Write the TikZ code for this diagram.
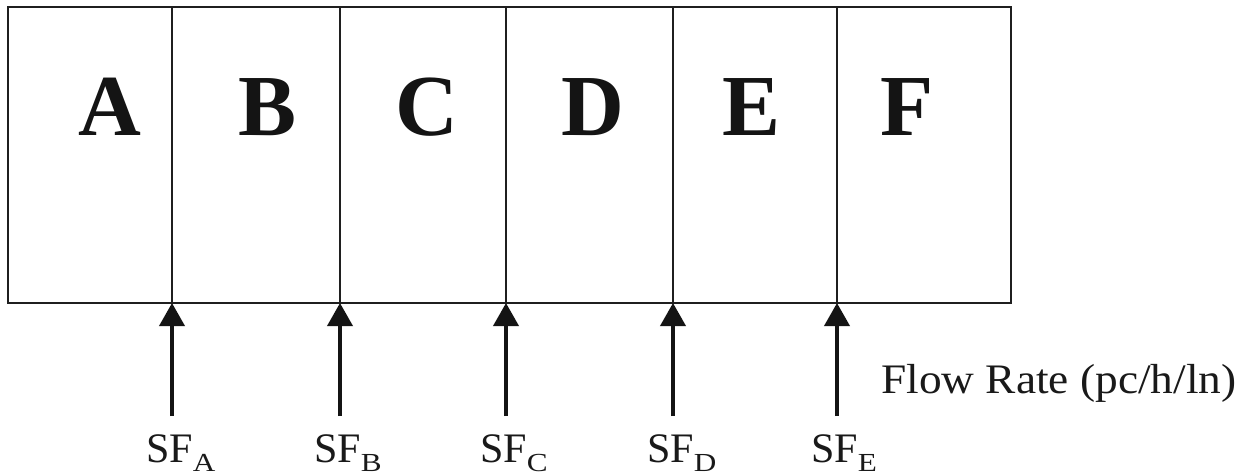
\documentclass[tikz,border=0pt]{standalone}
\usepackage{fontspec}
\setmainfont{Liberation Serif}
\newfontfamily\subfont[FakeStretch=1.2]{Liberation Serif}
\newfontfamily\flowfont[FakeStretch=1.08]{Liberation Serif}
\usetikzlibrary{arrows.meta}
\newcommand\subl[1]{\raisebox{-9pt}{\fontsize{26}{26}\subfont #1}}
\tikzset{
  boxline/.style={line width=2.6pt, draw=black!88},
  divline/.style={line width=2pt, draw=black!88},
  zone/.style={font=\fontsize{87}{87}\selectfont\bfseries, anchor=base, inner sep=0pt, text=black!92},
  lbl/.style={font=\fontsize{42}{42}\selectfont, anchor=base west, inner sep=0pt, text=black!90},
  flowarrow/.style={line width=3.8pt, draw=black!92, -{Triangle[width=25pt,length=23pt]}}
}
\begin{document}
\begin{tikzpicture}[x=1pt,y=-1pt]
\useasboundingbox (0,0) rectangle (1243,475);
\fill[white] (0,0) rectangle (1243,475);
% outer box
\draw[boxline] (8,7) rectangle (1011,303);
% dividers
\foreach \x in {172,340,506,673,837}{
  \draw[divline] (\x,7) -- (\x,303);
}
% zone letters
\node[zone] (zA) at (110,135) {A};
\node[zone] (zB) at (268,135) {B};
\node[zone] (zC) at (427,135) {C};
\node[zone] (zD) at (593,135) {D};
\node[zone] (zE) at (752,135) {E};
\node[zone] (zF) at (907,135) {F};
% arrows and labels
\foreach \n/\x in {A/172,B/340,C/506,D/673,E/837}{
  \coordinate (t\n) at (\x,303);
  \coordinate (b\n) at (\x,416);
  \draw[flowarrow] (b\n) -- (t\n);
  \node[lbl] (l\n) at (\x-26,462) {SF\subl{\n}};
}
% flow rate label
\node[font=\fontsize{42}{42}\flowfont, anchor=base west, inner sep=0pt, text=black!90] (flow) at (881,393) {Flow Rate (pc/h/ln)};
\end{tikzpicture}
\end{document}
